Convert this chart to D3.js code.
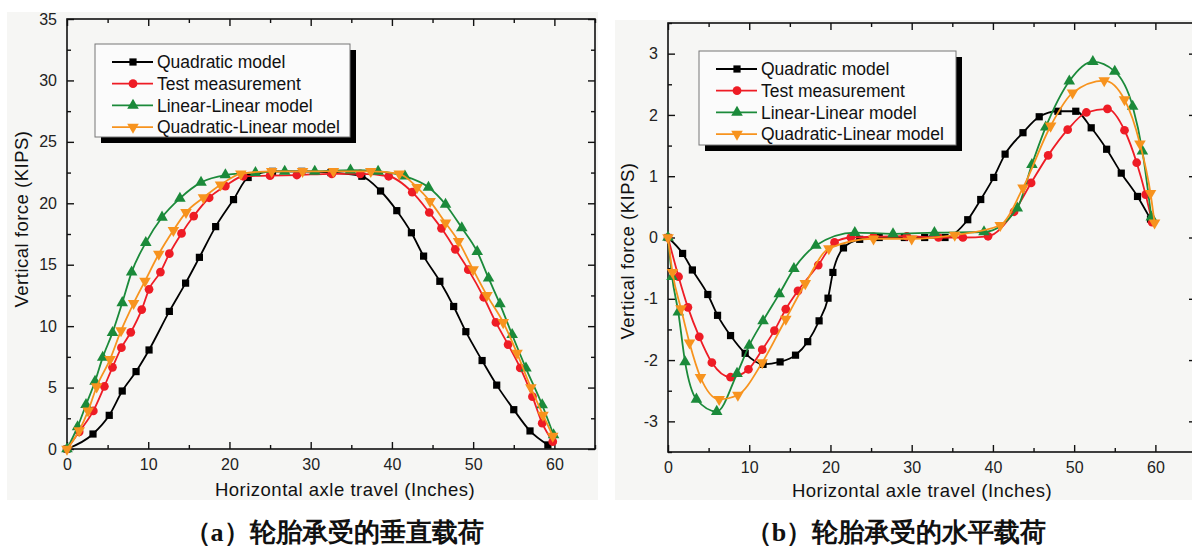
<!DOCTYPE html>
<html>
<head>
<meta charset="utf-8">
<script src="https://cdn.jsdelivr.net/npm/d3@7"></script>
<style>
  body { margin: 0; background: #ffffff; }
  svg { display: block; }
  text { font-family: "Liberation Sans", Arial, sans-serif; }
</style>
</head>
<body>
<svg id="chart" width="1192" height="551"></svg>
<script>
// ---- series shared by both panels ----
const seriesNames = ["Quadratic model", "Test measurement", "Linear-Linear model", "Quadratic-Linear model"];
const seriesColors = ["#000000", "#ee1c25", "#1b8a3a", "#f7931e"];
const seriesSymbols = ["square", "circle", "triangle", "triangleDown"];

// ---- panel (a): vertical force vs axle travel ----
const vXTicks = [0, 10, 20, 30, 40, 50, 60];
const vYTicks = [0, 5, 10, 15, 20, 25, 30, 35];

const vQuadX = [0, 3.2, 5.2, 6.8, 8.5, 10.1, 12.6, 14.6, 16.3, 18.3, 20.5, 22.3, 25.3, 28.9, 32.5, 36.3, 38.6, 40.6, 42.4, 43.9, 45.9, 47.6, 49.1, 51.1, 52.9, 55.0, 57.0, 59.2];
const vQuadY = [0, 1.22, 2.74, 4.72, 6.3, 8.06, 11.2, 13.5, 15.6, 18.1, 20.3, 22.1, 22.6, 22.6, 22.5, 22.2, 21.0, 19.4, 17.6, 15.7, 13.65, 11.6, 9.55, 7.2, 5.2, 3.2, 1.47, 0.33];

const vTestX = [0, 1.5, 3.24, 4.6, 5.6, 6.7, 7.85, 9.2, 10.1, 11.5, 12.6, 14.1, 15.6, 17.5, 19.5, 21.7, 25.0, 28.3, 32.6, 36.1, 39.6, 42.5, 44.6, 46.1, 47.8, 49.4, 51.3, 52.8, 54.3, 55.8, 57.3, 58.5, 59.8];
const vTestY = [0, 1.4, 3.1, 5.1, 6.65, 8.25, 9.5, 11.35, 13.0, 14.4, 15.9, 17.55, 18.96, 20.45, 21.4, 22.2, 22.25, 22.3, 22.4, 22.4, 22.2, 20.9, 19.25, 17.96, 16.25, 14.6, 12.35, 10.3, 8.5, 6.6, 4.26, 2.1, 0.6];

const vLinX = [0, 1.3, 2.34, 3.45, 4.4, 5.6, 6.8, 7.96, 9.7, 11.7, 13.9, 16.5, 19.5, 23.2, 26.8, 30.5, 34.9, 38.3, 41.6, 44.5, 46.6, 48.6, 50.5, 51.9, 53.3, 54.8, 56.5, 58.5, 59.9];
const vLinY = [0, 1.8, 3.6, 5.5, 7.46, 9.47, 11.9, 14.4, 16.8, 18.86, 20.4, 21.7, 22.3, 22.5, 22.6, 22.6, 22.7, 22.6, 22.2, 21.3, 19.9, 18.0, 16.06, 13.9, 11.8, 9.3, 6.57, 3.58, 1.14];

const vQLinX = [0, 1.5, 2.6, 3.65, 5.3, 6.65, 8.2, 9.6, 11.3, 13.1, 14.65, 16.8, 18.9, 21.4, 25.2, 29.0, 32.8, 37.4, 40.9, 43.1, 44.7, 46.6, 48.2, 50.0, 51.7, 53.7, 55.4, 57.1, 58.6, 59.8];
const vQLinY = [0, 1.5, 3.1, 5.07, 7.3, 9.63, 11.86, 13.67, 15.87, 17.8, 19.26, 20.46, 21.5, 22.4, 22.6, 22.6, 22.6, 22.6, 22.4, 21.3, 20.15, 18.4, 16.9, 14.6, 12.5, 10.3, 7.8, 5.0, 2.77, 1.06];

// ---- panel (b): horizontal force vs axle travel ----
const hXTicks = [0, 10, 20, 30, 40, 50, 60];
const hYTicks = [-3, -2, -1, 0, 1, 2, 3];

const hQuadX = [0, 1.8, 3.0, 4.9, 6.1, 7.7, 9.5, 11.7, 13.8, 15.7, 17.2, 18.6, 19.7, 20.3, 21.6, 23.6, 26.0, 29.1, 31.6, 34.1, 36.9, 38.5, 40.1, 41.5, 43.7, 45.7, 48.0, 50.2, 52.1, 54.0, 55.8, 57.8, 59.4];
const hQuadY = [0, -0.26, -0.53, -0.93, -1.27, -1.6, -1.89, -2.07, -2.03, -1.92, -1.7, -1.36, -0.99, -0.57, -0.17, -0.03, 0, 0, 0, 0, 0.29, 0.62, 0.98, 1.36, 1.71, 1.97, 2.06, 2.06, 1.79, 1.44, 1.05, 0.67, 0.3];

const hTestX = [0, 1.3, 2.45, 3.85, 5.4, 7.7, 9.9, 11.6, 13.1, 14.5, 16.0, 18.5, 20.5, 22.5, 25.3, 29.4, 33.3, 36.3, 39.4, 42.6, 44.7, 46.8, 49.2, 51.5, 54.1, 56.2, 57.7, 58.8, 59.6];
const hTestY = [0, -0.64, -1.14, -1.62, -2.04, -2.28, -2.15, -1.83, -1.52, -1.17, -0.87, -0.45, -0.08, 0, 0.01, 0.02, 0, 0, 0.02, 0.42, 0.89, 1.34, 1.76, 2.04, 2.1, 1.75, 1.22, 0.7, 0.25];

const hLinX = [0, 0.5, 1.27, 2.1, 3.5, 6.0, 8.5, 10.0, 11.7, 13.7, 15.5, 18.2, 23.0, 27.7, 32.8, 38.9, 43.0, 44.8, 46.5, 49.4, 52.3, 55.0, 57.2, 58.4, 59.5];
const hLinY = [0, -0.64, -1.22, -2.03, -2.64, -2.84, -2.22, -1.76, -1.36, -0.92, -0.51, -0.13, 0.08, 0.06, 0.08, 0.09, 0.48, 1.19, 1.8, 2.55, 2.87, 2.71, 2.14, 1.41, 0.33];

const hQLinX = [0, 0.55, 1.6, 2.65, 4.0, 6.3, 8.6, 11.6, 14.5, 16.9, 19.8, 25.3, 30.0, 35.3, 40.9, 43.7, 47.1, 49.8, 53.7, 56.2, 58.1, 59.4, 59.9];
const hQLinY = [0, -0.57, -1.16, -1.72, -2.28, -2.64, -2.57, -2.04, -1.33, -0.75, -0.18, -0.02, -0.02, 0.04, 0.2, 0.81, 1.82, 2.36, 2.56, 2.25, 1.53, 0.72, 0.24];

const xTitle = "Horizontal axle travel (Inches)";
const yTitle = "Vertical force (KIPS)";

// ---- panel layout ----
const panels = [
  {
    bg: [7, 12, 591, 488],
    xDomain: [0, 65], xRange: [67, 595],
    yDomain: [0, 35], yRange: [449, 19],
    xTicks: vXTicks, yTicks: vYTicks, xMinorStep: 5, yMinorStep: 2.5,
    series: [[vQuadX, vQuadY], [vTestX, vTestY], [vLinX, vLinY], [vQLinX, vQLinY]],
    legend: [95, 44, 255, 93],
    xTitlePos: [345, 496], yTitlePos: [21, 219],
    caption: ["（", "a", "）轮胎承受的垂直载荷"], captionPos: [334, 541]
  },
  {
    bg: [615, 20, 577, 480],
    xDomain: [0, 65], xRange: [668, 1196],
    yDomain: [-3.5, 3.5], yRange: [452, 23],
    xTicks: hXTicks, yTicks: hYTicks, xMinorStep: 5, yMinorStep: 0.5,
    series: [[hQuadX, hQuadY], [hTestX, hTestY], [hLinX, hLinY], [hQLinX, hQLinY]],
    legend: [699, 51, 257, 94],
    xTitlePos: [922, 497], yTitlePos: [627, 251],
    caption: ["（", "b", "）轮胎承受的水平载荷"], captionPos: [896, 541]
  }
];

const svg = d3.select("#chart");

function symbolPath(kind) {
  if (kind === "square") return d3.symbol(d3.symbolSquare, 52)();
  if (kind === "circle") return d3.symbol(d3.symbolCircle, 60)();
  return d3.symbol(d3.symbolTriangle, 58)();
}
function symbolTransform(kind, px, py) {
  return kind === "triangleDown"
    ? `translate(${px},${py}) rotate(180)`
    : `translate(${px},${py})`;
}

function range(lo, hi, step) {
  const out = [];
  for (let v = lo; v <= hi + 1e-9; v += step) out.push(+v.toFixed(4));
  return out;
}

function drawPanel(p) {
  const g = svg.append("g");
  g.append("rect")
    .attr("x", p.bg[0]).attr("y", p.bg[1]).attr("width", p.bg[2]).attr("height", p.bg[3])
    .attr("fill", "#f6f6f4");

  const x = d3.scaleLinear().domain(p.xDomain).range(p.xRange);
  const y = d3.scaleLinear().domain(p.yDomain).range(p.yRange);
  const [x0, x1] = p.xRange;
  const [yb, yt] = p.yRange;

  const xMinor = range(p.xDomain[0], p.xDomain[1], p.xMinorStep).filter(v => !p.xTicks.includes(v));
  const yMinor = range(p.yDomain[0], p.yDomain[1], p.yMinorStep).filter(v => !p.yTicks.includes(v));
  const fmt = d => String(d);

  const axes = [
    [d3.axisBottom(x), `translate(0,${yb})`, p.xTicks, xMinor, true],
    [d3.axisTop(x), `translate(0,${yt})`, p.xTicks, xMinor, false],
    [d3.axisLeft(y), `translate(${x0},0)`, p.yTicks, yMinor, true],
    [d3.axisRight(y), `translate(${x1},0)`, p.yTicks, yMinor, false]
  ];
  axes.forEach(([ax, tr, major, minor, labelled]) => {
    const gm = g.append("g").attr("transform", tr)
      .call(ax.tickValues(major).tickSizeInner(-7).tickSizeOuter(0)
        .tickPadding(labelled ? 10 : 0).tickFormat(labelled ? fmt : () => ""));
    gm.select(".domain").remove();
    gm.selectAll("line").attr("stroke", "#111").attr("stroke-width", 1.4);
    gm.selectAll("text").attr("font-size", 16).attr("fill", "#222")
      .attr("font-family", "'Liberation Sans', Arial, sans-serif");
    const gn = g.append("g").attr("transform", tr)
      .call(ax.tickValues(minor).tickSizeInner(-4).tickSizeOuter(0).tickFormat(() => ""));
    gn.select(".domain").remove();
    gn.selectAll("line").attr("stroke", "#111").attr("stroke-width", 1.4);
  });

  // plot frame
  g.append("rect")
    .attr("x", x0).attr("y", yt).attr("width", x1 - x0).attr("height", yb - yt)
    .attr("fill", "none").attr("stroke", "#111").attr("stroke-width", 1.6);

  // series
  const line = d3.line().x(d => x(d[0])).y(d => y(d[1])).curve(d3.curveMonotoneX);
  p.series.forEach(([xs, ys], i) => {
    const pts = xs.map((v, k) => [v, ys[k]]);
    const sg = g.append("g");
    sg.append("path").attr("d", line(pts))
      .attr("fill", "none").attr("stroke", seriesColors[i]).attr("stroke-width", 1.8);
    sg.selectAll("path.m").data(pts).join("path").attr("class", "m")
      .attr("d", symbolPath(seriesSymbols[i]))
      .attr("transform", d => symbolTransform(seriesSymbols[i], x(d[0]), y(d[1])))
      .attr("fill", seriesColors[i]);
  });

  // legend
  const [lx, ly, lw, lh] = p.legend;
  const lg = g.append("g");
  lg.append("rect").attr("x", lx + 6).attr("y", ly + 6).attr("width", lw).attr("height", lh).attr("fill", "#000");
  lg.append("rect").attr("x", lx).attr("y", ly).attr("width", lw).attr("height", lh)
    .attr("fill", "#fbfbfb").attr("stroke", "#777").attr("stroke-width", 1);
  seriesNames.forEach((name, i) => {
    const ry = ly + 18 + i * 21.7;
    lg.append("line").attr("x1", lx + 17).attr("x2", lx + 58).attr("y1", ry).attr("y2", ry)
      .attr("stroke", seriesColors[i]).attr("stroke-width", 1.8);
    lg.append("path").attr("d", symbolPath(seriesSymbols[i]))
      .attr("transform", symbolTransform(seriesSymbols[i], lx + 38, ry))
      .attr("fill", seriesColors[i]);
    lg.append("text").attr("x", lx + 62).attr("y", ry).attr("dy", "0.36em")
      .attr("font-size", 17.5).attr("fill", "#111").text(name);
  });

  // axis titles
  g.append("text").attr("x", p.xTitlePos[0]).attr("y", p.xTitlePos[1])
    .attr("text-anchor", "middle").attr("font-size", 18.5).attr("letter-spacing", 0.5)
    .attr("fill", "#111").text(xTitle);
  g.append("text")
    .attr("transform", `translate(${p.yTitlePos[0]},${p.yTitlePos[1]}) rotate(-90)`)
    .attr("text-anchor", "middle").attr("dy", "0.36em").attr("font-size", 18.5)
    .attr("letter-spacing", 0.5).attr("fill", "#111").text(yTitle);

  // caption: Latin letter in a serif face, the rest in the CJK face
  const cap = g.append("text").attr("x", p.captionPos[0]).attr("y", p.captionPos[1])
    .attr("text-anchor", "middle").attr("font-size", 26).attr("font-weight", "bold")
    .attr("font-family", "'Noto Sans CJK SC', sans-serif").attr("fill", "#111");
  cap.append("tspan").text(p.caption[0]);
  cap.append("tspan").attr("font-family", "'Liberation Serif', serif").text(p.caption[1]);
  cap.append("tspan").text(p.caption[2]);
}

panels.forEach(drawPanel);
</script>
</body>
</html>
